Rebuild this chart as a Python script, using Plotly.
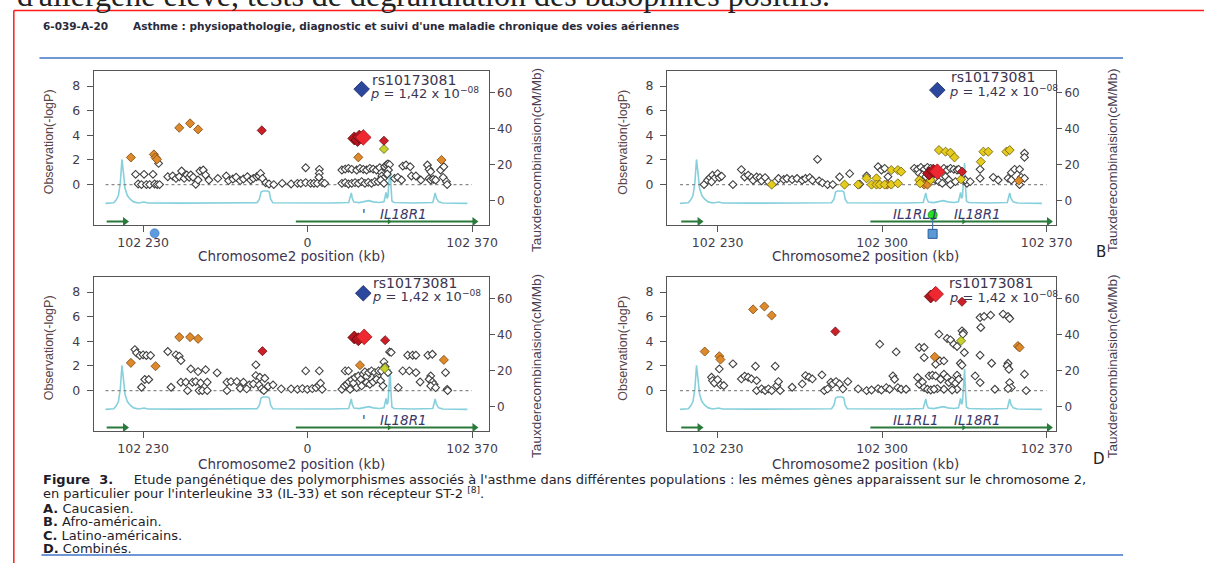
import plotly.graph_objects as go

W, H = 1220, 563

# ---------------- shared genomic context ----------------
recomb_kb = [102214.0, 102216.0, 102217.5, 102218.5, 102219.5, 102220.3, 102221.0, 102221.6, 102222.3, 102223.3,
             102224.5, 102226.0, 102228.0, 102230.5, 102232.0, 102245.0, 102262.0, 102276.0, 102278.5, 102279.5,
             102280.2, 102281.0, 102283.0, 102283.7, 102284.3, 102285.2, 102295.0, 102310.0, 102317.5, 102318.2,
             102318.6, 102319.0, 102319.7, 102322.0, 102324.0, 102326.0, 102328.0, 102330.5, 102332.5, 102333.0,
             102333.4, 102333.8, 102334.2, 102334.7, 102335.1, 102335.5, 102335.9, 102336.8, 102345.0, 102353.3,
             102353.9, 102354.3, 102354.8, 102355.8, 102357.5, 102368.0]
recomb_rate = [-1.3, -1.1, -1.0, 0.5, 3.0, 10.0, 23.0, 16.0, 7.0, 3.0,
               1.0, -0.5, -1.1, -0.6, -1.1, -1.2, -1.2, -1.0, -1.0, 1.0,
               5.0, 5.5, 5.5, 5.0, 1.0, -1.0, -1.2, -1.1, -0.8, 2.0,
               4.5, 1.5, -0.6, -0.9, -0.3, 0.2, -0.5, -0.8, -0.5, 2.0,
               4.8, 1.5, 2.5, 12.0, 21.0, 8.0, 0.0, -0.8, -1.1, -0.8,
               2.0, 4.5, 1.5, -0.5, -1.1, -1.3]
zero_kb = [102214.0, 102370.0]
gene_left_kb = [102214.5, 102222.3]
gene_right_kb = [102295.0, 102371.0]
gene_mid_kb = [102334.7]
gene_track_logp = -3.0
gene_label_logp = -2.35
IL1RL1_kb = 102314.5
IL18R1_kb = 102340.8

xtick_vals = [102230, 102300, 102370]
xtick_text_AC = ["102 230", "0", "102 370"]
xtick_text_BD = ["102 230", "102 300", "102 370"]
logp_ticks = [0, 2, 4, 6, 8]
recomb_ticks = [0, 20, 40, 60]

# ---------------- panel A : Caucasien ----------------
A_gray = [(102226.8, 0.83), (102227.9, 0.05), (102229.3, 0.0), (102230.4, 0.83), (102231.4, 0.0), (102232.8, 0.0),
          (102234.2, 0.83), (102234.9, 0.05), (102236.0, 0.0), (102236.6, 1.72), (102237.0, 0.0), (102240.5, 0.64),
          (102242.6, 0.7), (102244.0, 0.5), (102245.4, 0.64), (102246.4, 1.1), (102247.5, 0.5), (102248.6, 0.78),
          (102249.6, 0.6), (102250.3, 0.78), (102251.3, 0.6), (102252.4, 0.02), (102253.4, 0.37), (102254.2, 1.1),
          (102255.6, 1.18), (102256.6, 0.78), (102258.0, 0.37), (102261.8, 0.5), (102265.4, 0.7), (102266.4, 0.32),
          (102268.2, 0.45), (102269.6, 0.6), (102271.3, 0.32), (102272.7, 0.45), (102274.4, 0.64), (102275.8, 0.37),
          (102276.9, 0.5), (102278.3, 0.64), (102279.3, 0.7), (102280.0, 0.91), (102280.8, 0.5), (102282.2, 0.15),
          (102283.6, 0.05), (102285.6, 0.0), (102289.2, 0.1), (102293.0, 0.05),
          (102299.2, 1.37), (102305.0, 1.24), (102305.0, 0.91), (102304.8, 0.59), (102295.7, 0.1), (102297.1, 0.1),
          (102299.2, 0.16), (102301.3, 0.1), (102302.7, 0.1), (102304.1, 0.1), (102306.2, 0.16), (102307.3, 0.1),
          (102314.6, 1.18), (102316.0, 1.26), (102317.4, 1.32), (102318.8, 1.24), (102320.9, 1.18), (102322.3, 1.32),
          (102323.7, 1.24), (102325.1, 1.18), (102326.5, 1.32), (102327.9, 1.26), (102329.3, 1.18), (102330.7, 1.37),
          (102331.4, 0.97), (102331.6, 0.7), (102332.2, 0.48), (102332.8, 1.45), (102333.5, 1.59), (102334.2, 1.67),
          (102334.9, 1.62), (102334.4, 1.18), (102333.9, 0.86), (102314.6, 0.1), (102316.0, 0.16), (102317.4, 0.05),
          (102318.8, 0.1), (102320.2, 0.16), (102321.6, 0.1), (102323.0, 0.24), (102324.4, 0.1), (102325.8, 0.18),
          (102327.2, 0.1), (102328.6, 0.24), (102330.0, 0.24), (102331.1, 0.37), (102332.5, 0.1), (102337.0, 0.5),
          (102338.4, 0.59), (102340.0, 0.37), (102340.5, 1.5), (102341.9, 1.59), (102343.7, 1.45), (102344.2, 0.7),
          (102346.1, 0.7), (102348.2, 0.37), (102351.0, 1.59), (102351.7, 1.24), (102352.4, 1.05), (102351.7, 0.5),
          (102352.4, 0.37), (102353.5, 0.43), (102354.5, 0.37), (102356.6, 1.18), (102358.0, 1.45), (102357.7, 0.59),
          (102359.1, 0.24), (102359.4, 0.0)]
A_orange = [(102224.8, 2.2), (102234.6, 2.45), (102235.3, 2.2), (102235.9, 2.05), (102245.4, 4.61),
            (102250.0, 4.97), (102253.4, 4.48), (102321.6, 2.21), (102357.0, 2.0)]
A_yellow = []
A_ygreen = [(102332.5, 2.89)]
A_red = [(102280.5, 4.4), (102332.5, 3.56)]
A_darkred = [(102319.9, 3.75), (102321.3, 3.62), (102322.0, 3.89)]
A_lead = [(102323.7, 3.83)]
A_blue = [(102323.0, 7.75)]
A_circle_kb = [102234.9]
A_circle_logp = [-3.95]

# ---------------- panel B : Afro-américain ----------------
B_gray = [(102224.2, 0.0), (102225.7, 0.35), (102226.8, 0.57), (102227.8, 0.76), (102228.6, 0.49), (102230.0, 0.89),
          (102230.7, 0.57), (102231.7, 0.68), (102227.4, 0.22), (102236.5, 0.0), (102240.1, 1.22), (102241.5, 0.62),
          (102243.0, 0.76), (102244.4, 0.57), (102245.1, 0.35), (102246.6, 0.62), (102248.0, 0.57), (102248.7, 0.3),
          (102250.2, 0.57), (102251.6, 0.22), (102254.5, 0.22), (102255.9, 0.49), (102258.1, 0.41), (102259.5, 0.49),
          (102261.7, 0.41), (102263.8, 0.49), (102266.0, 0.35), (102267.4, 0.49), (102269.2, 0.57), (102270.3, 0.35),
          (102272.5, 2.05), (102273.2, 0.3), (102274.6, 0.14), (102276.8, 0.0), (102279.0, 0.0), (102281.9, 0.62),
          (102286.2, 0.89), (102290.5, 0.03), (102293.4, 0.7), (102298.3, 1.45), (102299.7, 1.18), (102301.1, 1.32),
          (102302.5, 0.64), (102313.7, 1.32), (102315.1, 1.24), (102316.5, 1.4), (102317.9, 1.24), (102319.3, 1.4),
          (102320.7, 1.32), (102322.1, 1.18), (102315.8, 0.91), (102317.2, 0.78), (102318.6, 0.64), (102320.0, 0.7),
          (102321.4, 0.51), (102322.8, 0.37), (102324.2, 0.24), (102325.6, 0.1), (102327.0, 0.64), (102328.4, 0.37),
          (102326.3, 1.32), (102327.7, 1.18), (102329.1, 1.32), (102330.5, 1.24), (102331.9, 1.18), (102329.1, 0.0),
          (102331.2, 0.24), (102336.1, 0.1), (102335.4, 0.37), (102337.5, 0.24), (102332.6, 1.24), (102341.7, 1.24),
          (102341.7, 0.51), (102347.3, 0.59), (102349.4, 0.37), (102353.6, 0.51), (102355.0, 0.97), (102356.4, 1.24),
          (102358.5, 1.24), (102359.2, 0.59), (102360.6, 0.51), (102355.0, 0.37), (102358.5, 0.0), (102360.6, 2.54),
          (102360.6, 2.21)]
B_orange = [(102302.2, 0.0), (102317.9, 0.0), (102319.3, 0.0), (102358.2, 0.32)]
B_yellow = [(102253.0, 0.0), (102284.0, 0.0), (102289.8, 0.0), (102293.4, 0.51), (102297.6, 0.51), (102295.5, 0.0),
            (102297.6, 0.0), (102299.0, 0.0), (102301.1, 0.0), (102303.9, 0.0), (102306.7, 0.1), (102303.9, 1.18),
            (102306.7, 1.18), (102308.1, 1.05), (102315.8, 0.37), (102316.2, 0.1), (102320.7, 0.37), (102333.6, 0.43),
            (102324.2, 2.8), (102327.0, 2.67), (102329.1, 2.59), (102330.8, 2.21), (102342.0, 1.86), (102343.1, 2.67),
            (102345.2, 2.67), (102352.9, 2.67), (102354.3, 2.8)]
B_ygreen = []
B_red = [(102334.0, 1.05)]
B_darkred = [(102320.0, 0.9), (102321.8, 1.13)]
B_lead = [(102323.5, 1.05)]
B_blue = [(102323.5, 7.67)]
B_probe_kb = [102321.5]
B_probe_logp = [-2.47, -4.0]

# ---------------- panel C : Latino-américains ----------------
C_gray = [(102226.5, 3.33), (102227.2, 3.06), (102228.6, 2.85), (102230.0, 2.9), (102231.4, 2.85), (102233.2, 2.85),
          (102240.5, 3.17), (102244.0, 2.9), (102245.4, 2.79), (102246.1, 2.44), (102250.3, 1.76), (102253.4, 1.54),
          (102256.6, 1.7), (102261.5, 1.44), (102278.0, 2.09), (102278.0, 1.22), (102279.7, 1.08), (102281.8, 1.0),
          (102230.7, 0.9), (102232.4, 0.9), (102229.3, 0.27), (102246.1, 0.68), (102248.2, 0.68), (102251.0, 0.68),
          (102252.4, 0.73), (102254.5, 0.62), (102257.3, 0.68), (102248.9, 0.0), (102253.8, 0.0), (102255.2, 0.0),
          (102257.3, 0.0), (102265.7, 0.68), (102267.4, 0.73), (102269.9, 0.73), (102272.7, 0.68), (102275.2, 0.46),
          (102276.9, 0.54), (102279.4, 0.46), (102280.4, 0.14), (102283.2, 0.35), (102285.3, 0.46), (102288.8, 0.14),
          (102265.7, 0.0), (102271.3, 0.19), (102274.1, 0.14), (102281.4, 0.0), (102293.0, 0.14), (102241.9, 0.27),
          (102299.2, 1.6), (102305.0, 1.6), (102295.7, 0.1), (102297.8, 0.16), (102299.9, 0.1), (102302.0, 0.16),
          (102303.6, 0.24), (102304.8, 0.43), (102305.5, 0.6), (102306.2, 0.1), (102316.0, 1.6), (102317.4, 1.6),
          (102314.6, 0.1), (102315.7, 0.38), (102316.7, 0.51), (102317.6, 0.7), (102318.8, 0.87), (102319.5, 0.6),
          (102320.2, 1.06), (102321.6, 1.19), (102322.7, 0.92), (102323.7, 1.33), (102324.4, 1.52), (102325.1, 1.14),
          (102326.0, 1.46), (102327.2, 1.6), (102328.6, 1.46), (102329.7, 1.19), (102330.2, 1.6), (102331.4, 1.6),
          (102332.5, 2.33), (102333.0, 1.95), (102318.1, 0.1), (102320.9, 0.24), (102323.0, 0.38), (102325.1, 0.65),
          (102326.5, 0.51), (102327.9, 0.7), (102329.3, 0.92), (102331.1, 0.79), (102332.1, 0.38), (102334.2, 1.46),
          (102334.9, 3.14), (102335.6, 3.1), (102338.6, 0.24), (102340.5, 1.6), (102342.6, 2.87), (102344.7, 2.87),
          (102346.1, 2.87), (102343.3, 1.6), (102346.1, 1.46), (102347.9, 0.7), (102351.2, 2.87), (102353.1, 2.95),
          (102352.4, 1.19), (102351.7, 0.92), (102353.1, 0.7), (102353.8, 0.51), (102352.4, 0.38), (102354.5, 0.24),
          (102358.7, 1.46), (102359.4, 0.1), (102359.6, 0.0)]
C_orange = [(102224.8, 2.25), (102235.3, 1.98), (102245.4, 4.34), (102250.0, 4.34), (102253.4, 4.2),
            (102322.3, 2.06), (102358.0, 2.49)]
C_yellow = []
C_ygreen = [(102332.8, 1.79)]
C_red = [(102280.8, 3.2), (102333.0, 4.09)]
C_darkred = [(102319.9, 4.31), (102321.6, 4.17)]
C_lead = [(102324.1, 4.36)]
C_blue = [(102323.7, 7.9)]

# ---------------- panel D : Combinés ----------------
D_gray = [(102227.4, 1.08), (102227.8, 0.81), (102228.6, 0.62), (102230.0, 0.89), (102231.2, 0.46), (102232.6, 0.41),
          (102230.7, 1.76), (102236.5, 2.17), (102240.1, 0.95), (102241.5, 1.17), (102243.0, 1.08), (102244.4, 0.95),
          (102246.6, 0.81), (102246.1, 1.98), (102246.6, 0.0), (102248.7, 0.14), (102250.2, 0.0), (102251.6, 0.14),
          (102253.0, 0.0), (102254.5, 1.98), (102255.2, 0.41), (102255.9, 0.73), (102256.6, 0.0), (102261.7, 0.27),
          (102266.0, 0.54), (102267.4, 1.22), (102268.9, 1.08), (102270.3, 0.95), (102274.4, 1.27), (102275.4, 0.0),
          (102276.8, 0.14), (102278.2, 0.68), (102279.0, 0.54), (102280.4, 0.73), (102281.9, 0.54), (102283.3, 0.14),
          (102285.4, 0.73), (102289.8, 0.14), (102293.4, 0.0), (102295.5, 0.05), (102298.3, 0.16), (102299.0, 3.77),
          (102299.7, 0.05), (102301.8, 0.24), (102303.2, 0.11), (102304.6, 1.19), (102305.3, 0.92), (102306.0, 3.14),
          (102306.7, 0.24), (102308.1, 0.11), (102310.2, 0.11), (102315.1, 1.06), (102315.8, 3.5), (102317.9, 3.5),
          (102317.9, 2.68), (102315.8, 0.51), (102317.2, 0.7), (102317.9, 0.24), (102319.3, 0.11), (102320.7, 0.05),
          (102320.0, 1.19), (102321.4, 1.25), (102322.8, 2.14), (102324.6, 2.41), (102326.3, 2.41), (102324.2, 4.58),
          (102327.7, 4.23), (102329.1, 4.12), (102330.5, 3.77), (102331.9, 3.58), (102335.0, 3.09), (102322.8, 1.19),
          (102324.9, 0.92), (102326.3, 1.33), (102327.7, 1.06), (102328.4, 0.65), (102329.8, 0.79), (102331.2, 0.6),
          (102331.9, 0.11), (102329.8, 0.05), (102326.3, 0.11), (102323.5, 0.16), (102322.1, 0.11), (102334.0, 4.85),
          (102334.7, 4.7), (102334.4, 4.58), (102333.3, 2.22), (102334.0, 2.06), (102331.9, 1.25), (102332.6, 0.92),
          (102341.7, 5.93), (102342.0, 5.12), (102343.4, 6.02), (102346.2, 6.12), (102351.5, 6.21), (102353.6, 6.02),
          (102354.3, 5.85), (102341.7, 2.87), (102346.6, 2.22), (102353.6, 2.22), (102353.2, 2.0), (102354.0, 1.73),
          (102360.6, 1.33), (102341.7, 0.65), (102339.6, 1.19), (102348.0, 0.11), (102354.3, 0.65), (102355.0, 0.24),
          (102353.6, 0.16), (102361.3, 0.0)]
D_orange = [(102224.5, 3.17), (102230.7, 2.79), (102231.2, 2.52), (102245.1, 6.59), (102249.9, 6.83),
            (102253.0, 6.1), (102322.4, 2.74), (102357.8, 3.62), (102358.5, 3.5)]
D_yellow = []
D_ygreen = [(102333.6, 4.04)]
D_red = [(102280.1, 4.8), (102334.0, 7.21)]
D_darkred = [(102320.7, 7.64)]
D_lead = [(102322.8, 7.83)]
D_blue = []

rs_label = "rs10173081"
p_label = "<i>p</i> = 1,42 x 10<sup>\u221208</sup>"

# ---------------- styling ----------------
STY = {
    'gray': dict(symbol='diamond', size=6, color='white', line=dict(color='#404040', width=1.1)),
    'orange': dict(symbol='diamond', size=7, color='#de8a2b', line=dict(color='#7a4612', width=0.8)),
    'yellow': dict(symbol='diamond', size=7, color='#e4cb1e', line=dict(color='#6a5a08', width=0.8)),
    'ygreen': dict(symbol='diamond', size=7, color='#c7d32c', line=dict(color='#5d6410', width=0.8)),
    'red': dict(symbol='diamond', size=7, color='#cc2028', line=dict(color='#6a0f14', width=0.8)),
    'darkred': dict(symbol='diamond', size=10, color='#b3161e', line=dict(color='#5a080c', width=0.8)),
    'lead': dict(symbol='diamond', size=12, color='#ee2730', line=dict(color='#9a1418', width=0.8)),
    'blue': dict(symbol='diamond', size=12, color='#2c489e', line=dict(color='#18285e', width=0.8)),
}
ORDER = ['gray', 'orange', 'yellow', 'ygreen', 'red', 'darkred', 'lead', 'blue']

AX_COL = '#555555'
TXT_COL = '#443c4c'
SANS = 'DejaVu Sans'
ARIAL = 'Liberation Sans'
GREEN = '#2b7a3b'

panels = [
    dict(key='A', px=(95, 495), py=(71, 225), xr=[102209.0, 102377.0], tt=xtick_text_AC,
         data=dict(gray=A_gray, orange=A_orange, yellow=A_yellow, ygreen=A_ygreen, red=A_red,
                   darkred=A_darkred, lead=A_lead, blue=A_blue),
         rs=(102326.5, 8.5), p=(102325.7, 7.45), genes='AC', xt_y=256),
    dict(key='B', px=(676, 1070), py=(71, 225), xr=[102208.5, 102374.0], tt=xtick_text_BD,
         data=dict(gray=B_gray, orange=B_orange, yellow=B_yellow, ygreen=B_ygreen, red=B_red,
                   darkred=B_darkred, lead=B_lead, blue=B_blue),
         rs=(102328.4, 8.7), p=(102327.7, 7.62), genes='BD', xt_y=256),
    dict(key='C', px=(95, 495), py=(277, 431), xr=[102209.0, 102377.0], tt=xtick_text_AC,
         data=dict(gray=C_gray, orange=C_orange, yellow=C_yellow, ygreen=C_ygreen, red=C_red,
                   darkred=C_darkred, lead=C_lead, blue=C_blue),
         rs=(102327.2, 8.73), p=(102326.5, 7.64), genes='AC', xt_y=464),
    dict(key='D', px=(676, 1070), py=(277, 431), xr=[102208.5, 102374.0], tt=xtick_text_BD,
         data=dict(gray=D_gray, orange=D_orange, yellow=D_yellow, ygreen=D_ygreen, red=D_red,
                   darkred=D_darkred, lead=D_lead, blue=D_blue),
         rs=(102327.7, 8.75), p=(102327.7, 7.62), genes='BD', xt_y=464),
]

LOGP_RANGE = [-3.28, 9.22]
RECOMB_RANGE = [-13.3, 72.0]
EXTRA_PX = 24  # extra height of the invisible axis used for marks drawn just below a frame

fig = go.Figure()
layout = {}
annotations = []


def paper_text(px, py, text, font, angle=0, xa='center', ya='middle'):
    annotations.append(dict(x=px / W, y=1 - py / H, xref='paper', yref='paper', text=text, showarrow=False,
                            xanchor=xa, yanchor=ya, textangle=angle, font=font))


extra_n = 0
for i, pn in enumerate(panels):
    xid = 'x' if i == 0 else f'x{i + 1}'
    nb, no = 2 * i + 1, 2 * i + 2
    yb = 'y' if nb == 1 else f'y{nb}'
    yo = f'y{no}'
    xkey = 'xaxis' if i == 0 else f'xaxis{i + 1}'
    ybkey = 'yaxis' if nb == 1 else f'yaxis{nb}'
    yokey = f'yaxis{no}'
    x0, x1 = pn['px']
    yt, ybot = pn['py']
    layout[xkey] = dict(domain=[x0 / W, x1 / W], range=pn['xr'], anchor=yb,
                        tickvals=xtick_vals, ticktext=pn['tt'], ticks='outside', ticklen=6,
                        tickcolor=AX_COL, showline=True, linecolor=AX_COL, linewidth=1.2, mirror=True,
                        showgrid=False, zeroline=False,
                        tickfont=dict(family=SANS, size=12.5, color=TXT_COL))
    layout[ybkey] = dict(domain=[1 - ybot / H, 1 - yt / H], range=RECOMB_RANGE, anchor=xid, side='right',
                         tickvals=recomb_ticks, ticks='outside', ticklen=5, tickcolor=AX_COL,
                         showline=True, linecolor=AX_COL, linewidth=1.2, showgrid=False, zeroline=False,
                         tickfont=dict(family=SANS, size=12, color=TXT_COL))
    layout[yokey] = dict(overlaying=yb, anchor=xid, side='left', range=LOGP_RANGE,
                         tickvals=logp_ticks, ticks='outside', ticklen=6, tickcolor=AX_COL,
                         showline=True, linecolor=AX_COL, linewidth=1.2, showgrid=False, zeroline=False,
                         ticklabelstandoff=4,
                         tickfont=dict(family=SANS, size=12.5, color=TXT_COL))

    # recombination rate line (base axis, drawn beneath)
    fig.add_trace(go.Scatter(x=recomb_kb, y=recomb_rate, mode='lines', xaxis=xid, yaxis=yb,
                             line=dict(color='#86d0dc', width=1.6), hoverinfo='skip', showlegend=False))
    # dotted zero line
    fig.add_trace(go.Scatter(x=zero_kb, y=[0, 0], mode='lines', xaxis=xid, yaxis=yo,
                             line=dict(color='#8a8a8a', width=1.2, dash='dot'), hoverinfo='skip', showlegend=False))
    # gene track
    for seg in (gene_left_kb, gene_right_kb):
        fig.add_trace(go.Scatter(x=seg, y=[gene_track_logp] * 2, mode='lines', xaxis=xid, yaxis=yo,
                                 line=dict(color=GREEN, width=2), hoverinfo='skip', showlegend=False))
    fig.add_trace(go.Scatter(x=[gene_left_kb[1], gene_right_kb[1]], y=[gene_track_logp] * 2, mode='markers',
                             xaxis=xid, yaxis=yo, marker=dict(symbol='triangle-right', size=8, color=GREEN),
                             hoverinfo='skip', showlegend=False))
    fig.add_trace(go.Scatter(x=gene_mid_kb, y=[gene_track_logp], mode='markers', xaxis=xid, yaxis=yo,
                             marker=dict(symbol='triangle-right', size=5, color=GREEN),
                             hoverinfo='skip', showlegend=False))

    # SNP markers
    for cat in ORDER:
        pts = pn['data'][cat]
        if not pts:
            continue
        fig.add_trace(go.Scatter(x=[p[0] for p in pts], y=[p[1] for p in pts], mode='markers',
                                 xaxis=xid, yaxis=yo, marker=STY[cat], hoverinfo='skip', showlegend=False))

    # marks that sit just below the frame: own invisible axes, extended downwards, same scale
    if pn['key'] in ('A', 'B'):
        extra_n += 1
        ex_x = f'x{4 + extra_n}'
        ex_y = f'y{8 + extra_n}'
        per_px = (LOGP_RANGE[1] - LOGP_RANGE[0]) / (ybot - yt)
        layout[f'xaxis{4 + extra_n}'] = dict(domain=[x0 / W, x1 / W], range=pn['xr'], anchor=ex_y, visible=False)
        layout[f'yaxis{8 + extra_n}'] = dict(domain=[1 - (ybot + EXTRA_PX) / H, 1 - yt / H],
                                             range=[LOGP_RANGE[0] - EXTRA_PX * per_px, LOGP_RANGE[1]],
                                             anchor=ex_x, visible=False)
        if pn['key'] == 'A':
            fig.add_trace(go.Scatter(x=A_circle_kb, y=A_circle_logp, mode='markers', xaxis=ex_x, yaxis=ex_y,
                                     marker=dict(symbol='circle', size=9, color='#5b9be0',
                                                 line=dict(color='#3a70b8', width=0.6)),
                                     hoverinfo='skip', showlegend=False))
        else:
            fig.add_trace(go.Scatter(x=B_probe_kb * 2, y=B_probe_logp, mode='lines', xaxis=ex_x, yaxis=ex_y,
                                     line=dict(color='#4f72a8', width=1.2), hoverinfo='skip', showlegend=False))
            fig.add_trace(go.Scatter(x=B_probe_kb, y=[B_probe_logp[1]], mode='markers', xaxis=ex_x, yaxis=ex_y,
                                     marker=dict(symbol='square', size=9, color='#5b9bd5',
                                                 line=dict(color='#2a5a9a', width=1)),
                                     hoverinfo='skip', showlegend=False))
            fig.add_trace(go.Scatter(x=B_probe_kb, y=[B_probe_logp[0]], mode='markers', xaxis=ex_x, yaxis=ex_y,
                                     marker=dict(symbol='circle', size=9, color='#22e022',
                                                 line=dict(color='#149014', width=0.8)),
                                     hoverinfo='skip', showlegend=False))

    # data-space text
    annotations.append(dict(x=pn['rs'][0], y=pn['rs'][1], xref=xid, yref=yo, text=rs_label, showarrow=False,
                            xanchor='left', yanchor='middle', font=dict(family=SANS, size=14, color='#3b3550')))
    annotations.append(dict(x=pn['p'][0], y=pn['p'][1], xref=xid, yref=yo, text=p_label, showarrow=False,
                            xanchor='left', yanchor='middle', font=dict(family=SANS, size=13, color='#3b3550')))
    gfont = dict(family=SANS, size=13.5, color='#3a3868')
    if pn['genes'] == 'BD':
        annotations.append(dict(x=IL1RL1_kb, y=gene_label_logp, xref=xid, yref=yo, text='<i>IL1RL1</i>',
                                showarrow=False, xanchor='center', yanchor='middle', font=gfont))
    else:
        annotations.append(dict(x=IL1RL1_kb + 9.7, y=gene_label_logp, xref=xid, yref=yo, text="'",
                                showarrow=False, xanchor='center', yanchor='middle', font=gfont))
    annotations.append(dict(x=IL18R1_kb, y=gene_label_logp, xref=xid, yref=yo, text='<i>IL18R1</i>',
                            showarrow=False, xanchor='center', yanchor='middle', font=gfont))

    # axis titles (paper space)
    left_x = 50 if x0 < 600 else 631
    right_x = 543 if x0 < 600 else 1127
    xt_x = 295 if x0 < 600 else 877
    paper_text(left_x, yt + 71, 'Observation(-logP)', dict(family=ARIAL, size=12.5, color='#5a4448'), angle=-90)
    paper_text(right_x, yt + 89, 'Tauxderecombinaision(cM/Mb)', dict(family=ARIAL, size=13.5, color='#4a3c52'),
               angle=-90)
    paper_text(xt_x, pn['xt_y'], 'Chromosome2 position (kb)', dict(family=SANS, size=13.5, color='#3e3650'))

# panel letters
paper_text(1116, 252, 'B', dict(family=SANS, size=15, color='#222222'))
paper_text(1114, 459, 'D', dict(family=SANS, size=15, color='#222222'))

# page texts
paper_text(15, 15, "d'allergène élevé, tests de dégranulation des basophiles positifs.",
           dict(family='Liberation Serif', size=32, color='#222222'), xa='left', ya='bottom')
paper_text(42, 26, '<b>6-039-A-20</b>', dict(family=SANS, size=10.5, color='#2a2a3a'), xa='left')
paper_text(133, 26, "<b>Asthme : physiopathologie, diagnostic et suivi d'une maladie chronique des voies aériennes</b>",
           dict(family=SANS, size=10.5, color='#2a2a3a'), xa='left')

cap_font = dict(family=SANS, size=13, color='#1e1e2a')
caption_lines = [
    (480, "<b>Figure\u00a0\u00a03.</b>\u00a0\u00a0\u00a0\u00a0\u00a0Etude pangénétique des polymorphismes associés à l'asthme dans différentes populations : les mêmes gènes apparaissent sur le chromosome 2,"),
    (493, "en particulier pour l'interleukine 33 (IL-33) et son récepteur ST-2 <sup>[8]</sup>."),
    (508, "<b>A.</b> Caucasien."),
    (521.5, "<b>B.</b> Afro-américain."),
    (535, "<b>C.</b> Latino-américains."),
    (548.5, "<b>D.</b> Combinés."),
]
for yy, txt in caption_lines:
    paper_text(42, yy, txt, cap_font, xa='left')

shapes = [
    dict(type='line', xref='paper', yref='paper', x0=14 / W, x1=1, y0=1 - 10.5 / H, y1=1 - 10.5 / H,
         line=dict(color='#ff1a1a', width=1.5)),
    dict(type='line', xref='paper', yref='paper', x0=14 / W, x1=14 / W, y0=0, y1=1 - 10.5 / H,
         line=dict(color='#ff1a1a', width=1.5)),
    dict(type='line', xref='paper', yref='paper', x0=40 / W, x1=1138 / W, y0=1 - 58 / H, y1=1 - 58 / H,
         line=dict(color='#3f74c9', width=1.5)),
    dict(type='line', xref='paper', yref='paper', x0=42 / W, x1=1138 / W, y0=1 - 555 / H, y1=1 - 555 / H,
         line=dict(color='#3f74c9', width=1.5)),
]

fig.update_layout(**layout)
fig.update_layout(width=W, height=H, margin=dict(l=0, r=0, t=0, b=0), autosize=False,
                  paper_bgcolor='white', plot_bgcolor='rgba(0,0,0,0)', showlegend=False,
                  annotations=annotations, shapes=shapes)

fig.write_html("out.html")
